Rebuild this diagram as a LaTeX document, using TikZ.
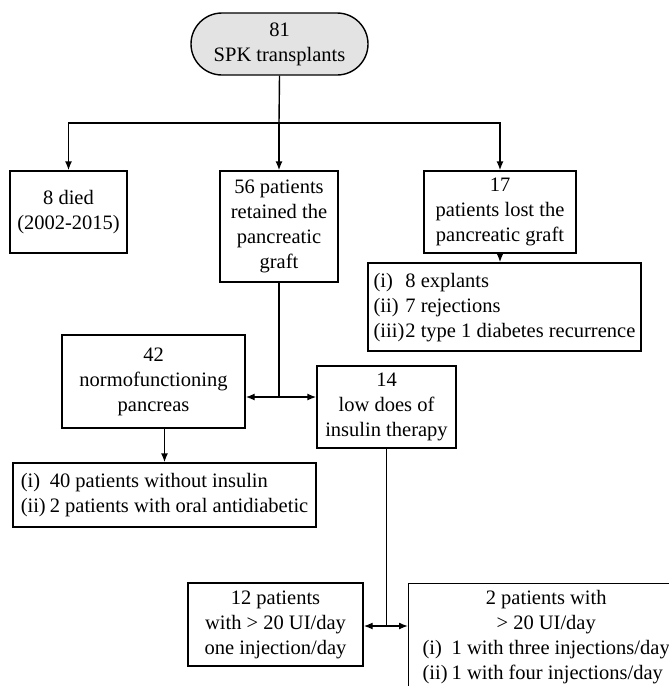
\documentclass[tikz,border=0pt]{standalone}
\usepackage{fontspec}
\setmainfont{Liberation Serif}
\usetikzlibrary{arrows.meta}

\tikzset{
  box/.style={draw, line width=1.4pt, inner sep=0pt, align=center,
    font=\fontsize{20.5}{25}\selectfont},
  startbox/.style={box, fill=gray!22, rounded corners=31pt},
  lnk/.style={line width=1.4pt},
  arr/.style={lnk, -{Latex[length=9pt,width=7pt]}}
}

\begin{document}
\begin{tikzpicture}[x=1pt, y=-1pt]
\clip (0,0) rectangle (669,686);

\node[startbox, minimum width=177pt, minimum height=62pt](spk) at (279.5,44){81\\SPK transplants};
\node[box, minimum width=117pt, minimum height=82pt](died) at (68.5,212){8 died\\(2002-2015)};
\node[box, minimum width=118pt, minimum height=111pt](kept) at (279,226.5){56 patients\\retained the\\pancreatic\\graft};
\node[box, minimum width=152pt, minimum height=82pt](lost) at (500,212){17\\patients lost the\\pancreatic graft};
\node[box, minimum width=273pt, minimum height=88pt](lostwhy) at (504.5,307){%
  \begin{tabular}{@{}l@{\hspace{1pt}}l@{}}(i)&8 explants\\(ii)&7 rejections\\(iii)&2 type 1 diabetes recurrence\end{tabular}};
\node[box, minimum width=183pt, minimum height=93pt](normo) at (153.5,381.5){42\\normofunctioning\\pancreas};
\node[box, minimum width=139pt, minimum height=82pt](lowins) at (386.5,407){14\\low does of\\insulin therapy};
\node[box, minimum width=303pt, minimum height=64pt](noins) at (164.5,495){%
  \begin{tabular}{@{}l@{\hspace{4pt}}l@{}}(i)&40 patients without insulin\\(ii)&2 patients with oral antidiabetic\end{tabular}};
\node[box, minimum width=175pt, minimum height=83pt](onedose) at (275.5,624.5){12 patients\\with > 20 UI/day\\one injection/day};
\node[box, anchor=north west, inner sep=3pt, minimum width=275pt](multidose) at (408,583){%
  \begin{tabular}{@{}l@{\hspace{4pt}}l@{}}\multicolumn{2}{c}{2 patients with}\\\multicolumn{2}{c}{> 20 UI/day}\\(i)&1 with three injections/day\\(ii)&1 with four injections/day\end{tabular}};

% links
\coordinate (fork) at (279,123);
\draw[lnk] (spk.south) -- (fork);
\draw[arr] (fork) -| (died.north);
\draw[arr] (fork) -- (kept.north);
\draw[arr] (fork) -| (lost.north);
\draw[arr] (lost.south) -- (lost.south |- lostwhy.north);

\coordinate (split) at (279,397);
\draw[lnk] (kept.south) -- (split);
\draw[arr] (split) -- (split -| normo.east);
\draw[arr] (split) -- (split -| lowins.west);
\draw[arr] (noins.north |- normo.south) -- (noins.north);

\coordinate (dose) at (386.5,626);
\draw[lnk] (lowins.south) -- (dose);
\draw[arr] (dose) -- (dose -| onedose.east);
\draw[arr] (dose) -- (dose -| multidose.west);
\end{tikzpicture}
\end{document}
